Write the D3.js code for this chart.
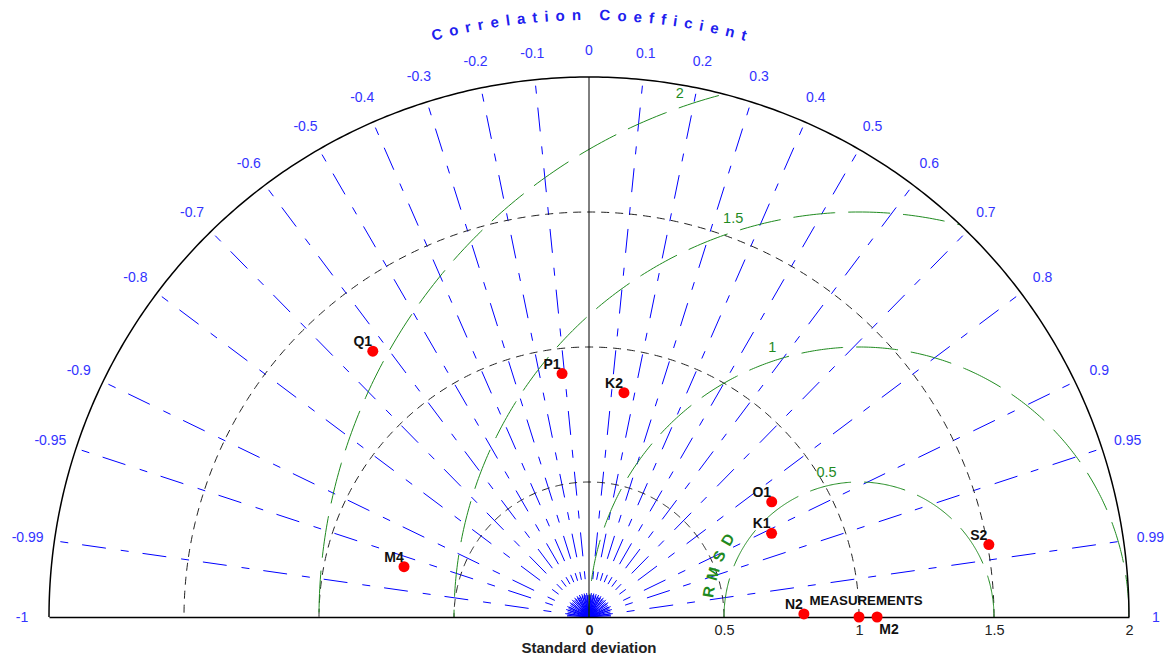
<!DOCTYPE html>
<html>
<head>
<meta charset="utf-8">
<script src="https://cdn.jsdelivr.net/npm/d3@7"></script>
<style>
  html, body { margin: 0; padding: 0; background: #fff; }
  svg { display: block; font-family: "Liberation Sans", Arial, sans-serif; }
</style>
</head>
<body>
<svg id="chart" width="1170" height="661"></svg>
<script>
// Model statistics: normalised standard deviation and correlation with the measurements
const modelNames   = ["Q1", "P1", "K2", "O1", "K1", "S2", "M4", "N2", "M2"];
const modelStd     = [1.269, 0.907, 0.841, 0.800, 0.744, 1.505, 0.710, 0.796, 1.067];
const modelCorr    = [-0.631, -0.110, 0.154, 0.846, 0.909, 0.984, -0.965, 0.9999, 1.0];

// Reference (observed) point
const refName = "MEASUREMENTS";
const refStd  = 1.0;
const refCorr = 1.0;

// Axis and grid definitions
const corrTicks  = [-1, -0.99, -0.95, -0.9, -0.8, -0.7, -0.6, -0.5, -0.4, -0.3, -0.2, -0.1, 0,
                    0.1, 0.2, 0.3, 0.4, 0.5, 0.6, 0.7, 0.8, 0.9, 0.95, 0.99, 1];
const corrTickLabels = ["-1", "-0.99", "-0.95", "-0.9", "-0.8", "-0.7", "-0.6", "-0.5", "-0.4", "-0.3", "-0.2", "-0.1", "0",
                        "0.1", "0.2", "0.3", "0.4", "0.5", "0.6", "0.7", "0.8", "0.9", "0.95", "0.99", "1"];
const stdTicks   = [0, 0.5, 1, 1.5, 2];
const stdTickLabels = ["0", "0.5", "1", "1.5", "2"];
const stdCircles = [0.5, 1, 1.5];
const rmsCircles = [0.5, 1, 1.5, 2];
const rmsLabels  = ["0.5", "1", "1.5", "2"];
const maxStd = 2;

const svg = d3.select("#chart");
const cx = 589, cy = 617, R = 540;

const x = d3.scaleLinear().domain([-maxStd, maxStd]).range([cx - R, cx + R]);
const y = d3.scaleLinear().domain([0, maxStd]).range([cy, cy - R]);

const polar = (s, c) => [x(s * c), y(s * Math.sqrt(Math.max(0, 1 - c * c)))];
const line = d3.line();
const rad = a => a * Math.PI / 180;

const BLUE = "#0000ff", BLUE_TXT = "#3333ff", GREEN = "#1f8a1f";

// clip region: upper half disc of radius maxStd
const defs = svg.append("defs");
defs.append("clipPath").attr("id", "half")
  .append("path")
  .attr("d", () => {
    const pts = d3.range(0, 181, 1).map(a => [x(maxStd * Math.cos(rad(a))), y(maxStd * Math.sin(rad(a)))]);
    return line(pts) + "Z";
  });

// correlation rays
const rays = corrTicks.filter(c => c !== 0 && Math.abs(c) !== 1);
svg.append("g").selectAll("line").data(rays).join("line")
  .attr("x1", x(0)).attr("y1", y(0))
  .attr("x2", c => polar(maxStd, c)[0]).attr("y2", c => polar(maxStd, c)[1])
  .attr("stroke", BLUE).attr("stroke-width", 1)
  .attr("stroke-dasharray", "24,14,8,15");

// dense fan of short ticks at the origin
const fanAngles = d3.range(0, 180.01, 4.5);
svg.append("g").selectAll("line").data(fanAngles).join("line")
  .attr("x1", x(0)).attr("y1", y(0))
  .attr("x2", a => x(0) + 22 * Math.cos(rad(a)))
  .attr("y2", a => y(0) - 22 * Math.sin(rad(a)))
  .attr("stroke", BLUE).attr("stroke-width", 1);

// standard deviation circles
svg.append("g").selectAll("path").data(stdCircles).join("path")
  .attr("d", s => line(d3.range(0, 180.01, 0.5).map(a => [x(s * Math.cos(rad(a))), y(s * Math.sin(rad(a)))])))
  .attr("fill", "none").attr("stroke", "#222").attr("stroke-width", 1)
  .attr("stroke-dasharray", "8,6");

// RMSD circles around the reference point
const refX = refStd * refCorr;
svg.append("g").attr("clip-path", "url(#half)")
  .selectAll("path").data(rmsCircles).join("path")
  .attr("d", r => line(d3.range(0, 180.01, 0.5).map(a => [x(refX + r * Math.cos(rad(a))), y(r * Math.sin(rad(a)))])))
  .attr("fill", "none").attr("stroke", GREEN).attr("stroke-width", 1)
  .attr("stroke-dasharray", "42,13");

// RMSD labels
const rmsLabelAngles = [102.6, 107.8, 107.5, 108.9];
svg.append("g").selectAll("text").data(rmsCircles).join("text")
  .attr("x", (r, i) => x(refX + (r + 0.05) * Math.cos(rad(rmsLabelAngles[i]))))
  .attr("y", (r, i) => y((r + 0.05) * Math.sin(rad(rmsLabelAngles[i]))))
  .attr("text-anchor", "middle").attr("dominant-baseline", "central")
  .attr("fill", GREEN).attr("font-size", 14.5)
  .text((r, i) => rmsLabels[i]);

// curved "R M S D" title along the 0.5 circle
const rmsdLetters = ["R", "M", "S", "D"];
const rmsdAngles = [170.5, 163.5, 156.5, 149.5];
svg.append("g").selectAll("text").data(rmsdLetters).join("text")
  .attr("transform", (d, i) => {
    const a = rad(rmsdAngles[i]);
    const px = x(refX + 0.565 * Math.cos(a)), py = y(0.565 * Math.sin(a));
    return `translate(${px},${py}) rotate(${90 - rmsdAngles[i]})`;
  })
  .attr("text-anchor", "middle").attr("dominant-baseline", "central")
  .attr("fill", GREEN).attr("font-size", 15.5).attr("font-weight", "bold")
  .text(d => d);

// outer arc
svg.append("path")
  .attr("d", line(d3.range(0, 180.01, 0.5).map(a => [x(maxStd * Math.cos(rad(a))), y(maxStd * Math.sin(rad(a)))])))
  .attr("fill", "none").attr("stroke", "#000").attr("stroke-width", 1.5);

// zero-correlation line
svg.append("line")
  .attr("x1", x(0)).attr("y1", y(0)).attr("x2", x(0)).attr("y2", y(maxStd))
  .attr("stroke", "#000").attr("stroke-width", 1);

// standard deviation axis
const axisG = svg.append("g").attr("transform", `translate(0,${cy})`)
  .call(d3.axisBottom(x).tickValues(stdTicks).tickSize(0).tickPadding(8)
    .tickFormat((d, i) => stdTickLabels[i]));
axisG.select(".domain").attr("stroke", "#000").attr("stroke-width", 1.5);
axisG.selectAll("text")
  .attr("font-family", "Liberation Sans, Arial, sans-serif")
  .attr("font-size", 14.5).attr("fill", "#222")
  .attr("font-weight", d => d === 0 ? "bold" : "normal");

svg.append("text")
  .attr("x", x(0)).attr("y", cy + 36)
  .attr("text-anchor", "middle")
  .attr("font-size", 15).attr("font-weight", "bold").attr("fill", "#222")
  .text("Standard deviation");

// correlation labels
svg.append("g").selectAll("text").data(corrTicks).join("text")
  .attr("x", c => polar(2.1, c)[0])
  .attr("y", c => polar(2.1, c)[1])
  .attr("text-anchor", "middle").attr("dominant-baseline", "central")
  .attr("fill", BLUE_TXT).attr("font-size", 14)
  .text((c, i) => corrTickLabels[i]);

// curved correlation title: each letter placed and rotated along an arc
const titleText = "Correlation Coefficient";
const titleR = 597, titleSize = 15, titleSpacing = 7;
const titleG = svg.append("g")
  .attr("fill", "#2020ee").attr("font-size", titleSize).attr("font-weight", "bold");
const chars = Array.from(titleText);
const widths = chars.map(ch => {
  const t = titleG.append("text").text(ch === " " ? "\u00a0" : ch);
  const w = t.node().getComputedTextLength();
  t.remove();
  return w;
});
const totalLen = d3.sum(widths) + titleSpacing * (chars.length - 1);
let run = -totalLen / 2;
chars.forEach((ch, i) => {
  const mid = run + widths[i] / 2;
  run += widths[i] + titleSpacing;
  if (ch === " ") return;
  const ang = Math.PI / 2 - mid / titleR;           // angle measured from +x axis
  const px = cx + titleR * Math.cos(ang), py = cy - titleR * Math.sin(ang);
  titleG.append("text")
    .attr("transform", `translate(${px},${py}) rotate(${90 - ang * 180 / Math.PI})`)
    .attr("text-anchor", "middle")
    .text(ch);
});

// points
const pts = modelNames.map((n, i) => ({ name: n, s: modelStd[i], c: modelCorr[i] }));
const labelOffsets = { M2: [12, 12] };
svg.append("g").selectAll("circle").data(pts.concat([{ name: refName, s: refStd, c: refCorr }])).join("circle")
  .attr("cx", d => polar(d.s, d.c)[0]).attr("cy", d => polar(d.s, d.c)[1])
  .attr("r", 5.5).attr("fill", "#ff0000");

svg.append("g").selectAll("text").data(pts).join("text")
  .attr("x", d => polar(d.s, d.c)[0] + (labelOffsets[d.name] ? labelOffsets[d.name][0] : -10))
  .attr("y", d => polar(d.s, d.c)[1] + (labelOffsets[d.name] ? labelOffsets[d.name][1] : -10))
  .attr("text-anchor", "middle").attr("dominant-baseline", "central")
  .attr("font-size", 14).attr("font-weight", "bold").attr("fill", "#111")
  .text(d => d.name);

svg.append("text")
  .attr("x", polar(refStd, refCorr)[0] + 7).attr("y", polar(refStd, refCorr)[1] - 17)
  .attr("text-anchor", "middle").attr("dominant-baseline", "central")
  .attr("font-size", 13.3).attr("font-weight", "bold").attr("fill", "#111")
  .text(refName);
</script>
</body>
</html>
